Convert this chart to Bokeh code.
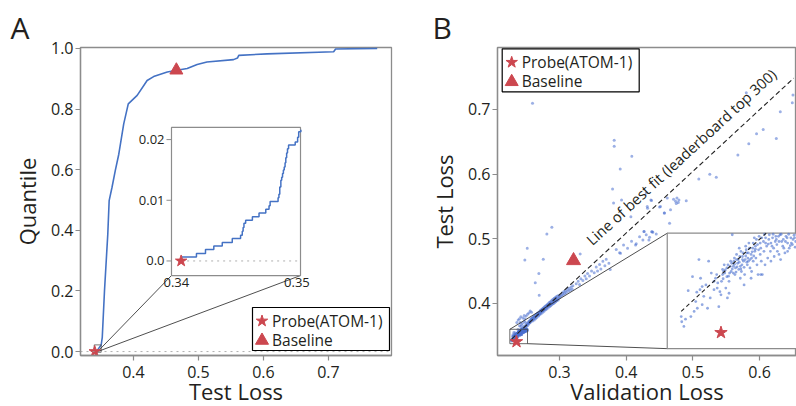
from bokeh.plotting import figure
from bokeh.models import Range1d, FixedTicker, PrintfTickFormatter, Span, Title
from bokeh.layouts import row
from bokeh.embed import file_html
from bokeh.resources import INLINE
from bokeh.core.properties import value

# ----------------------------------------------------------------- data
cdf_loss = [0.3405, 0.3440, 0.3503, 0.3520, 0.3554, 0.3605, 0.3626, 0.3670, 0.3720,
            0.3774, 0.3850, 0.3920, 0.4057, 0.4210, 0.4310, 0.4520, 0.4670, 0.4826,
            0.4980, 0.5130, 0.5540, 0.5600, 0.5620, 0.6057, 0.7080, 0.7110, 0.7750]
cdf_quantile = [0.0007, 0.0030, 0.0216, 0.0470, 0.2000, 0.3880, 0.4980, 0.5420, 0.5970,
                0.6510, 0.7510, 0.8170, 0.8450, 0.8940, 0.9070, 0.9220, 0.9280, 0.9340,
                0.9470, 0.9550, 0.9630, 0.9680, 0.9770, 0.9820, 0.9890, 0.9980, 1.0000]

# zoomed lowest tail of the CDF (step levels start at each loss)
tail_loss = [0.34047, 0.34167, 0.34242, 0.34311, 0.34381, 0.34464, 0.34533, 0.34547,
             0.34554, 0.34561, 0.34575, 0.34631, 0.34686, 0.34742, 0.34769, 0.34778,
             0.34844, 0.34851, 0.34858, 0.34867, 0.34874, 0.34881, 0.34888, 0.34895,
             0.34902, 0.34908, 0.34915, 0.34922, 0.34931, 0.34986, 0.35006, 0.35015, 0.35033]
tail_quantile = [0.00066, 0.00121, 0.00187, 0.00248, 0.00303, 0.00369, 0.00424, 0.00490,
                 0.00550, 0.00620, 0.00670, 0.00730, 0.00790, 0.00850, 0.00910, 0.00980,
                 0.01040, 0.01100, 0.01220, 0.01330, 0.01380, 0.01440, 0.01500, 0.01550,
                 0.01620, 0.01700, 0.01780, 0.01850, 0.01910, 0.01960, 0.02040, 0.02130, 0.02160]

probe_val_loss, probe_test_loss = 0.2355, 0.3404
baseline_val_loss, baseline_test_loss = 0.3210, 0.4660
probe_quantile, baseline_quantile = 0.0, 0.928
legend_labels = ["Probe(ATOM-1)", "Baseline"]

a_x_ticks = [0.4, 0.5, 0.6, 0.7]
a_y_ticks = [0.0, 0.2, 0.4, 0.6, 0.8, 1.0]
a_zoom_x_ticks = [0.34, 0.35]
a_zoom_x_labels = ["0.34", "0.35"]
a_zoom_y_ticks = [0.0, 0.01, 0.02]
a_zoom_y_labels = ["0.0", "0.01", "0.02"]

# Panel B: validation loss vs test loss (leaderboard entries)
zoom_pts = [  # points inside the zoomed box
    (0.2281, 0.3435), (0.2282, 0.3425), (0.2286, 0.3416), (0.2289, 0.3430), (0.2294, 0.3485),
    (0.2302, 0.3512), (0.2310, 0.3482), (0.2311, 0.3451), (0.2308, 0.3464), (0.2314, 0.3545),
    (0.2316, 0.3487), (0.2320, 0.3493), (0.2323, 0.3474), (0.2327, 0.3496), (0.2332, 0.3542),
    (0.2335, 0.3471), (0.2337, 0.3519), (0.2342, 0.3503), (0.2345, 0.3509), (0.2348, 0.3490),
    (0.2351, 0.3454), (0.2353, 0.3483), (0.2355, 0.3477), (0.2358, 0.3516), (0.2360, 0.3522),
    (0.2361, 0.3535), (0.2364, 0.3490), (0.2367, 0.3471), (0.2370, 0.3480), (0.2373, 0.3542),
    (0.2374, 0.3522), (0.2376, 0.3593), (0.2378, 0.3532), (0.2380, 0.3548), (0.2382, 0.3529),
    (0.2384, 0.3555), (0.2386, 0.3538), (0.2387, 0.3545), (0.2389, 0.3567), (0.2391, 0.3532),
    (0.2392, 0.3561), (0.2393, 0.3522), (0.2395, 0.3551), (0.2397, 0.3542), (0.2398, 0.3496),
    (0.2399, 0.3516), (0.2401, 0.3571), (0.2403, 0.3558), (0.2404, 0.3535), (0.2405, 0.3548),
    (0.2407, 0.3577), (0.2409, 0.3529), (0.2411, 0.3555), (0.2412, 0.3522), (0.2414, 0.3567),
    (0.2415, 0.3542), (0.2417, 0.3587), (0.2418, 0.3561), (0.2420, 0.3548), (0.2422, 0.3535),
    (0.2423, 0.3574), (0.2424, 0.3516), (0.2426, 0.3590), (0.2428, 0.3555), (0.2429, 0.3567),
    (0.2430, 0.3542), (0.2432, 0.3516), (0.2434, 0.3580), (0.2435, 0.3561), (0.2437, 0.3535),
    (0.2438, 0.3587), (0.2440, 0.3571), (0.2442, 0.3548), (0.2445, 0.3593), (0.2447, 0.3561),
    (0.2448, 0.3577), (0.2451, 0.3587), (0.2453, 0.3567), (0.2454, 0.3551), (0.2457, 0.3590),
    (0.2459, 0.3574), (0.2460, 0.3561), (0.2463, 0.3580), (0.2465, 0.3593), (0.2466, 0.3545),
    (0.2470, 0.3571), (0.2471, 0.3584), (0.2474, 0.3558), (0.2476, 0.3590), (0.2479, 0.3577),
    (0.2482, 0.3567), (0.2485, 0.3587), (0.2488, 0.3574), (0.2491, 0.3592), (0.2494, 0.3580),
    (0.2498, 0.3584), (0.2501, 0.3590), (0.2358, 0.3526), (0.2362, 0.3519), (0.2366, 0.3529),
    (0.2369, 0.3513), (0.2372, 0.3532), (0.2375, 0.3538), (0.2378, 0.3519), (0.2379, 0.3542),
    (0.2381, 0.3516), (0.2384, 0.3545), (0.2388, 0.3526), (0.2390, 0.3551), (0.2394, 0.3535),
    (0.2396, 0.3558), (0.2400, 0.3545), (0.2402, 0.3564), (0.2406, 0.3542), (0.2408, 0.3567),
    (0.2412, 0.3548), (0.2415, 0.3577), (0.2419, 0.3571), (0.2421, 0.3584), (0.2425, 0.3564),
    (0.2428, 0.3577), (0.2431, 0.3587), (0.2438, 0.3577), (0.2444, 0.3584), (0.2450, 0.3571),
    (0.2456, 0.3580), (0.2462, 0.3590), (0.2468, 0.3580), (0.2478, 0.3587), (0.2486, 0.3577),
    (0.2492, 0.3587), (0.2502, 0.3580), (0.2342, 0.3487), (0.2347, 0.3516), (0.2349, 0.3500),
    (0.2356, 0.3503), (0.2370, 0.3503), (0.2391, 0.3509), (0.2411, 0.3509), (0.2429, 0.3516),
    (0.2448, 0.3542), (0.2463, 0.3555), (0.2479, 0.3561), (0.2320, 0.3458), (0.2330, 0.3451),
    (0.2305, 0.3445), (0.2299, 0.3435), (0.2317, 0.3509), (0.2436, 0.3594), (0.2443, 0.3575),
    (0.2452, 0.3594), (0.2458, 0.3584), (0.2467, 0.3594), (0.2472, 0.3567), (0.2475, 0.3580),
    (0.2481, 0.3594), (0.2484, 0.3572), (0.2489, 0.3584), (0.2493, 0.3569), (0.2496, 0.3594),
    (0.2500, 0.3575), (0.2503, 0.3567), (0.2505, 0.3588), (0.2508, 0.3594), (0.2510, 0.3578),
    (0.2513, 0.3586), (0.2516, 0.3572), (0.2518, 0.3593), (0.2363, 0.3525), (0.2368, 0.3535),
    (0.2371, 0.3519), (0.2376, 0.3527), (0.2380, 0.3536), (0.2383, 0.3521), (0.2385, 0.3531),
    (0.2389, 0.3540), (0.2392, 0.3527), (0.2395, 0.3545), (0.2398, 0.3530), (0.2401, 0.3552),
    (0.2403, 0.3540), (0.2406, 0.3558), (0.2409, 0.3545), (0.2413, 0.3560), (0.2416, 0.3552),
    (0.2419, 0.3565), (0.2359, 0.3508), (0.2366, 0.3512),
]
band_pts = [  # main band outside the zoomed box
    (0.2440, 0.3610), (0.2455, 0.3625), (0.2465, 0.3640), (0.2475, 0.3615), (0.2485, 0.3650),
    (0.2490, 0.3630), (0.2500, 0.3662), (0.2505, 0.3610), (0.2510, 0.3645), (0.2515, 0.3680),
    (0.2420, 0.3640), (0.2430, 0.3665), (0.2400, 0.3650), (0.2410, 0.3700), (0.2445, 0.3690),
    (0.2470, 0.3720), (0.2480, 0.3760), (0.2490, 0.3700), (0.2360, 0.3700), (0.2380, 0.3740),
    (0.2400, 0.3760), (0.2420, 0.3790), (0.2450, 0.3770), (0.2470, 0.3810), (0.2500, 0.3800),
    (0.2520, 0.3830), (0.2540, 0.3850), (0.2560, 0.3880), (0.2580, 0.3860),
    (0.2525, 0.3660), (0.2530, 0.3700), (0.2535, 0.3680), (0.2540, 0.3720), (0.2545, 0.3690),
    (0.2550, 0.3705), (0.2555, 0.3730), (0.2560, 0.3700), (0.2565, 0.3745), (0.2570, 0.3720),
    (0.2575, 0.3760), (0.2580, 0.3735), (0.2585, 0.3770), (0.2590, 0.3750), (0.2595, 0.3725),
    (0.2600, 0.3780), (0.2605, 0.3755), (0.2610, 0.3790), (0.2615, 0.3770), (0.2620, 0.3740),
    (0.2625, 0.3800), (0.2630, 0.3780), (0.2635, 0.3815), (0.2640, 0.3760), (0.2645, 0.3795),
    (0.2650, 0.3830), (0.2655, 0.3805), (0.2660, 0.3780), (0.2665, 0.3840), (0.2670, 0.3815),
    (0.2675, 0.3850), (0.2680, 0.3825), (0.2685, 0.3800), (0.2690, 0.3860), (0.2695, 0.3840),
    (0.2700, 0.3820), (0.2705, 0.3875), (0.2710, 0.3850), (0.2715, 0.3890), (0.2720, 0.3860),
    (0.2725, 0.3835), (0.2730, 0.3900), (0.2735, 0.3875), (0.2740, 0.3910), (0.2745, 0.3885),
    (0.2750, 0.3860), (0.2755, 0.3920), (0.2760, 0.3895), (0.2765, 0.3935), (0.2770, 0.3880),
    (0.2775, 0.3910), (0.2780, 0.3950), (0.2785, 0.3925), (0.2790, 0.3900), (0.2795, 0.3960),
    (0.2800, 0.3935), (0.2805, 0.3910), (0.2810, 0.3970), (0.2815, 0.3945), (0.2820, 0.3985),
    (0.2825, 0.3955), (0.2830, 0.3925), (0.2835, 0.3990), (0.2840, 0.3965), (0.2845, 0.4010),
    (0.2850, 0.3975), (0.2855, 0.3950), (0.2860, 0.4020), (0.2865, 0.3990), (0.2870, 0.3965),
    (0.2875, 0.4035), (0.2880, 0.4005), (0.2885, 0.3980), (0.2890, 0.4050), (0.2895, 0.4015),
    (0.2900, 0.3990), (0.2905, 0.4060), (0.2910, 0.4030), (0.2915, 0.4000), (0.2920, 0.4075),
    (0.2925, 0.4040), (0.2930, 0.4015), (0.2935, 0.4085), (0.2940, 0.4050), (0.2945, 0.4025),
    (0.2950, 0.4100), (0.2955, 0.4065), (0.2960, 0.4040), (0.2970, 0.4110), (0.2975, 0.4075),
    (0.2980, 0.4050), (0.2990, 0.4120), (0.2995, 0.4085), (0.3010, 0.4100), (0.3020, 0.4140),
    (0.3030, 0.4115), (0.3045, 0.4160), (0.3055, 0.4130), (0.3065, 0.4180), (0.3075, 0.4145),
    (0.3090, 0.4190), (0.3100, 0.4160), (0.3115, 0.4215), (0.3130, 0.4185), (0.3145, 0.4230),
    (0.3160, 0.4200), (0.3175, 0.4250), (0.3190, 0.4215), (0.3200, 0.4270), (0.3250, 0.4300),
    (0.3280, 0.4340), (0.3300, 0.4290), (0.3320, 0.4380), (0.3350, 0.4350), (0.3380, 0.4420),
    (0.3400, 0.4380), (0.3420, 0.4460), (0.3450, 0.4420), (0.3480, 0.4500), (0.3520, 0.4470),
    (0.3550, 0.4560), (0.3570, 0.4500), (0.3600, 0.4600), (0.3620, 0.4530), (0.3650, 0.4650),
    (0.3680, 0.4580), (0.3700, 0.4680), (0.3740, 0.4620), (0.3760, 0.4520), (0.3960, 0.4900),
    (0.4020, 0.4850), (0.4080, 0.4960), (0.4150, 0.4920), (0.4200, 0.5030), (0.4250, 0.4980),
    (0.4300, 0.5060), (0.4350, 0.5020), (0.4400, 0.5100), (0.4450, 0.5070), (0.3850, 0.4830),
    (0.3900, 0.4780),
]
outlier_pts = [
    (0.2595, 0.7095), (0.3820, 0.6524), (0.3820, 0.6431), (0.4084, 0.6275), (0.3910, 0.6080),
    (0.3795, 0.5768), (0.3810, 0.5550), (0.3930, 0.5600), (0.4300, 0.5706), (0.4370, 0.5600),
    (0.4500, 0.5490), (0.4570, 0.5395), (0.4320, 0.5470), (0.4070, 0.5340), (0.4270, 0.5110),
    (0.4380, 0.5105), (0.2885, 0.5177), (0.2810, 0.5070), (0.6490, 0.7106), (0.6500, 0.7224),
    (0.6310, 0.6966), (0.6054, 0.6690), (0.5954, 0.6624), (0.6250, 0.6550), (0.5838, 0.6468),
    (0.5674, 0.6297), (0.5800, 0.7260), (0.5350, 0.5950), (0.5253, 0.5996), (0.5088, 0.5924),
    (0.4900, 0.5586), (0.4710, 0.5610), (0.4740, 0.5580), (0.4760, 0.5630), (0.4780, 0.5560),
    (0.4790, 0.5600), (0.4750, 0.5545), (0.4615, 0.5630), (0.4514, 0.5498), (0.4574, 0.5395),
    (0.4664, 0.5446), (0.4315, 0.5498), (0.4380, 0.5590), (0.4650, 0.5240), (0.4264, 0.5110),
    (0.4390, 0.5106), (0.2516, 0.4850), (0.2480, 0.4669), (0.2690, 0.4460), (0.2756, 0.4680),
    (0.2636, 0.4316), (0.2695, 0.4124), (0.3310, 0.4762), (0.4140, 0.4900), (0.3915, 0.4773),
    (0.4340, 0.4980),
]
# line of best fit (leaderboard top 300), end points
fit_val = [0.2281, 0.6513]
fit_test = [0.3445, 0.7487]
fit_label = "Line of best fit (leaderboard top 300)"

b_x_ticks = [0.3, 0.4, 0.5, 0.6]
b_y_ticks = [0.4, 0.5, 0.6, 0.7]

# ----------------------------------------------------------------- layout constants
FONT = "Open Sans"
INK = "#231f20"
GRAY = "#8c8c8c"
BLUE = "#4472c4"
DOT = "#4a6fcf"
RED = "#cc474f"

A_W, B_W, H = 400, 396, 406
TOP, BOT = 47, 51
A_L, A_R = 80, 9
B_L, B_R = 97, 0
A_XR, A_YR = (0.3185, 0.797), (-0.013, 1.003)
B_XR, B_YR = (0.207, 0.6553), (0.319, 0.796)

# inset placements (zoom source range -> target range in parent data units)
a_zoom_x, a_zoom_y = (0.3396, 0.3503), (-0.0024, 0.0220)
a_inset_x, a_inset_y = (0.4585, 0.6570), (0.2508, 0.7393)
b_zoom_x, b_zoom_y = (0.2255, 0.2520), (0.3373, 0.3596)
b_inset_x, b_inset_y = (0.4615, 0.6750), (0.3296, 0.5084)


def style(p, xt, yt, xlabel, ylabel, letter, letter_dx):
    p.grid.visible = False
    p.outline_line_color = GRAY
    p.outline_line_width = 1.3
    p.background_fill_color = "white"
    p.border_fill_color = "white"
    for ax in (p.xaxis[0], p.yaxis[0]):
        ax.axis_line_color = GRAY
        ax.axis_line_width = 1.3
        ax.major_tick_line_color = GRAY
        ax.major_tick_line_width = 1.2
        ax.major_tick_out = 5
        ax.major_tick_in = 0
        ax.minor_tick_out = 0
        ax.minor_tick_in = 0
        ax.major_label_text_font = FONT
        ax.major_label_text_font_size = "16px"
        ax.major_label_text_color = INK
        ax.formatter = PrintfTickFormatter(format="%.1f")
    p.xaxis[0].ticker = FixedTicker(ticks=xt)
    p.yaxis[0].ticker = FixedTicker(ticks=yt)
    p.xaxis[0].major_label_standoff = 5
    p.yaxis[0].major_label_standoff = 2
    ya = p.yaxis[0]
    ya.axis_label = ylabel
    ya.axis_label_text_font = FONT
    ya.axis_label_text_font_size = "22px"
    ya.axis_label_text_font_style = "normal"
    ya.axis_label_text_color = INK
    ya.axis_label_standoff = 6
    # x-axis label as a title below the axis (lets the label sit close to the bottom edge)
    p.add_layout(Title(text=xlabel, align="center", vertical_align="bottom", standoff=-13,
                       text_font=FONT, text_font_size="22px", text_font_style="normal",
                       text_color=INK), "below")
    p.title = Title(text=letter, align="left", offset=letter_dx, standoff=0,
                    text_font=FONT, text_font_size="30px", text_font_style="normal",
                    text_color=INK)


def draw_legend(p, xr, yr, fw, fh, left, top, star_size, tri_size):
    """Legend box drawn inside the frame; left/top given in frame pixels."""
    def dx(px):
        return xr[0] + px / fw * (xr[1] - xr[0])

    def dy(py):
        return yr[0] + py / fh * (yr[1] - yr[0])

    w, h = 137, 43
    rows = [top - 13.5, top - 32]
    p.quad(left=[dx(left)], right=[dx(left + w)], bottom=[dy(top - h)], top=[dy(top)],
           fill_color="white", line_color="black", line_width=1.2)
    p.scatter([dx(left + 9.5)], [dy(rows[0])], marker="star", size=star_size,
              fill_color=RED, line_color=RED)
    p.scatter([dx(left + 9.5)], [dy(rows[1] - 1)], marker="triangle", size=tri_size,
              fill_color=RED, line_color=RED)
    p.text(x=[dx(left + 19.5)] * 2, y=[dy(r) for r in rows], text=legend_labels,
           text_align="left", text_baseline="middle", text_font=value(FONT),
           text_font_size="15.5px", text_color=INK)


# ----------------------------------------------------------------- panel A
pa = figure(width=A_W, height=H, x_range=Range1d(*A_XR), y_range=Range1d(*A_YR),
            output_backend="svg", toolbar_location=None,
            min_border_left=A_L, min_border_right=A_R, min_border_top=TOP, min_border_bottom=BOT)
style(pa, a_x_ticks, a_y_ticks, "Test Loss", "Quantile", "A", -70)
a_fw, a_fh = A_W - A_L - A_R, H - TOP - BOT

pa.add_layout(Span(location=0, dimension="width", line_color="#9a9a9a", line_width=0.8,
                   line_dash="dotted"))
pa.line(cdf_loss, cdf_quantile, line_color=BLUE, line_width=1.6)

# zoom box + connectors + inset frame
pa.quad(left=[a_zoom_x[0]], right=[a_zoom_x[1]], bottom=[a_zoom_y[0]], top=[a_zoom_y[1]],
        fill_alpha=0, line_color="#555555", line_width=0.8)
a_mid = (a_zoom_x[0] + a_zoom_x[1]) / 2
pa.segment(x0=[a_mid, a_mid], y0=[0, 0], x1=[a_inset_x[0], a_inset_x[1]],
           y1=[a_inset_y[0], a_inset_y[0]], line_color="#222222", line_width=0.8)
pa.quad(left=[a_inset_x[0]], right=[a_inset_x[1]], bottom=[a_inset_y[0]], top=[a_inset_y[1]],
        fill_color="white", line_color=GRAY, line_width=1.2)

ina = pa.subplot(x_source=Range1d(*a_zoom_x), y_source=Range1d(*a_zoom_y),
                 x_target=Range1d(*a_inset_x), y_target=Range1d(*a_inset_y))
ina.segment(x0=[probe_test_loss], y0=[0], x1=[a_zoom_x[1]], y1=[0], line_color="#9a9a9a",
            line_width=0.8, line_dash="dotted")
ina.step(tail_loss, tail_quantile, mode="after", line_color=BLUE, line_width=1.5)
ina.scatter([probe_test_loss], [probe_quantile], marker="star", size=12, fill_color=RED,
            line_color=RED)
ina.ray(x=[a_zoom_x[0]] * len(a_zoom_y_ticks), y=a_zoom_y_ticks, length=5, angle=180,
        angle_units="deg", length_units="screen", line_color=GRAY, line_width=1)
ina.text(x=[a_zoom_x[0]] * len(a_zoom_y_ticks), y=a_zoom_y_ticks, text=a_zoom_y_labels,
         x_offset=-7, text_align="right", text_baseline="middle", text_font=value(FONT),
         text_font_size="13px", text_color=INK)
ina.text(x=a_zoom_x_ticks, y=[a_zoom_y[0]] * len(a_zoom_x_ticks), text=a_zoom_x_labels,
         y_offset=2, text_align="center", text_baseline="top", text_font=value(FONT),
         text_font_size="13px", text_color=INK)

pa.scatter([probe_test_loss], [probe_quantile], marker="star", size=12,
           fill_color=RED, line_color=RED)
pa.scatter([baseline_test_loss], [baseline_quantile], marker="triangle", size=13,
           fill_color=RED, line_color=RED)
draw_legend(pa, A_XR, A_YR, a_fw, a_fh, 172, 48, 12, 13)

# ----------------------------------------------------------------- panel B
pb = figure(width=B_W, height=H, x_range=Range1d(*B_XR), y_range=Range1d(*B_YR),
            output_backend="svg", toolbar_location=None,
            min_border_left=B_L, min_border_right=B_R, min_border_top=TOP, min_border_bottom=BOT)
style(pb, b_x_ticks, b_y_ticks, "Validation Loss", "Test Loss", "B", -65)
b_fw, b_fh = B_W - B_L - B_R, H - TOP - BOT

all_pts = zoom_pts + band_pts + outlier_pts
val_all = [p[0] for p in all_pts]
test_all = [p[1] for p in all_pts]
pb.scatter(val_all, test_all, size=3, fill_color=DOT, line_color=None, fill_alpha=0.55)
pb.line(fit_val, fit_test, line_color="#222222", line_width=1.1, line_dash="5 3")
pb.text(x=[0.3435], y=[0.4949], text=[fit_label], angle=42.6, angle_units="deg",
        text_align="left", text_baseline="alphabetic", text_font=value(FONT),
        text_font_size="14.8px", text_color=INK)

pb.quad(left=[b_zoom_x[0]], right=[b_zoom_x[1]], bottom=[b_zoom_y[0]], top=[b_zoom_y[1]],
        fill_alpha=0, line_color="#444444", line_width=0.8)
pb.segment(x0=[b_zoom_x[0], b_zoom_x[1]], y0=[b_zoom_y[1], b_zoom_y[0]],
           x1=[b_inset_x[0], b_inset_x[0]], y1=[b_inset_y[1], b_inset_y[0]],
           line_color="#222222", line_width=0.8)
pb.quad(left=[b_inset_x[0]], right=[b_inset_x[1]], bottom=[b_inset_y[0]], top=[b_inset_y[1]],
        fill_color="white", line_color=GRAY, line_width=1.2)

inb = pb.subplot(x_source=Range1d(*b_zoom_x), y_source=Range1d(*b_zoom_y),
                 x_target=Range1d(*b_inset_x), y_target=Range1d(*b_inset_y))
in_pts = [p for p in all_pts
          if b_zoom_x[0] <= p[0] <= b_zoom_x[1] and b_zoom_y[0] <= p[1] <= b_zoom_y[1]]
inb.scatter([p[0] for p in in_pts], [p[1] for p in in_pts], size=2.8, fill_color=DOT,
            line_color=None, fill_alpha=0.6)
slope = (fit_test[1] - fit_test[0]) / (fit_val[1] - fit_val[0])
x_top = fit_val[0] + (b_zoom_y[1] - fit_test[0]) / slope
inb.line([fit_val[0], x_top], [fit_test[0], b_zoom_y[1]], line_color="#222222",
         line_width=1.1, line_dash="4 3")
inb.scatter([probe_val_loss], [probe_test_loss], marker="star", size=13, fill_color=RED,
            line_color=RED)

pb.scatter([probe_val_loss], [probe_test_loss], marker="star", size=13,
           fill_color=RED, line_color=RED)
pb.scatter([baseline_val_loss], [baseline_test_loss], marker="triangle", size=14,
           fill_color=RED, line_color=RED)
draw_legend(pb, B_XR, B_YR, b_fw, b_fh, 4.7, b_fh - 1.3, 12, 13)

layout = row(pa, pb)
open("out.html", "w").write(file_html(layout, INLINE))
